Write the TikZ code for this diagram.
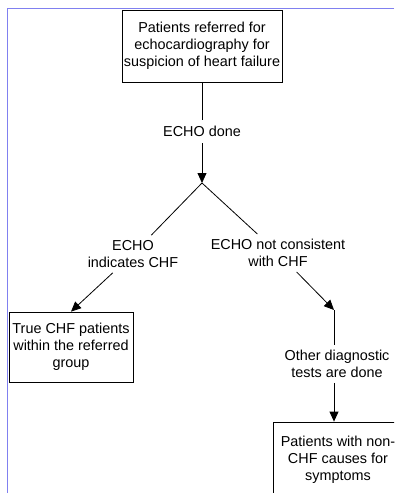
\documentclass[tikz,border=0pt]{standalone}
\usepackage{fontspec}
\setmainfont{Liberation Sans}
\usetikzlibrary{arrows.meta}
\definecolor{framblue}{RGB}{128,128,240}
\begin{document}
\begin{tikzpicture}[x=1pt,y=-1pt,
	font=\fontsize{14.4}{17}\selectfont,
	box/.style={draw,thick,align=center,inner sep=0pt},
	lbl/.style={align=center,inner xsep=1pt,inner ysep=5pt},
	arr/.style={-{Triangle[width=9pt,length=10pt]}}]
	\useasboundingbox (0,0) rectangle (394,493);
	\clip (0,0) rectangle (394,493);
	\draw[framblue,thick] (394,8) -- (7,8) -- (7,493);
	% boxes
	\node[box,minimum width=160pt,minimum height=72pt] (referred) at (202,46) {Patients referred for\\echocardiography for\\suspicion of heart failure};
	\node[box,minimum width=124pt,minimum height=70pt] (truechf) at (71,347) {True CHF patients\\within the referred\\group};
	\node[box,minimum width=130pt,minimum height=75pt] (nonchf) at (338,459.5) {Patients with non-\\CHF causes for\\symptoms};
	% labels
	\node[lbl,inner ysep=6.5pt] (done) at (202,131.5) {ECHO done};
	\node[lbl] (indic) at (133,254) {ECHO\\indicates CHF};
	\node[lbl] (notcons) at (278,253) {ECHO not consistent\\with CHF};
	\node[lbl] (other) at (337,364) {Other diagnostic\\tests are done};
	\coordinate (split) at (202,183);
	\coordinate (bend) at (334,310);
	% connectors
	\draw[thick] (referred) -- (done);
	\draw[thick,arr] (done) -- (split);
	\draw[thick] (split) -- (indic);
	\draw[thick] (split) -- (notcons);
	\draw[thick,arr] (indic) -- (truechf.north);
	\draw[thick,arr] (notcons) -- (bend);
	\draw[thick] (bend) -- (bend |- other.north);
	\draw[thick,arr] (bend |- other.south) -- (bend |- nonchf.north);
\end{tikzpicture}
\end{document}
